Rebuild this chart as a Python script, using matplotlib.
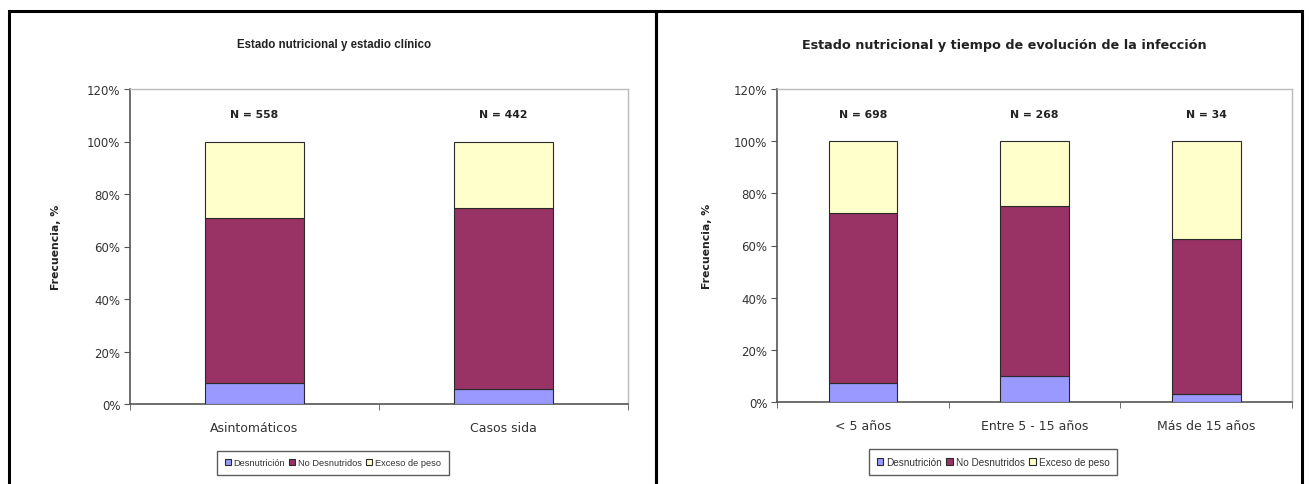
import matplotlib
matplotlib.use("Agg")
import matplotlib.pyplot as plt
from matplotlib.patches import Rectangle
import numpy as np

W, H = 1309, 485

# ---- data ----
left_title = "Estado nutricional y estadio clínico"
left_categories = ["Asintomáticos", "Casos sida"]
left_n = ["N = 558", "N = 442"]
left_desnutricion = [8.0, 5.7]
left_no_desnutridos = [62.8, 69.0]
left_exceso = [29.2, 25.3]

right_title = "Estado nutricional y tiempo de evolución de la infección"
right_categories = ["< 5 años", "Entre 5 - 15 años", "Más de 15 años"]
right_n = ["N = 698", "N = 268", "N = 34"]
right_desnutricion = [7.3, 10.0, 3.0]
right_no_desnutridos = [65.0, 65.0, 59.5]
right_exceso = [27.7, 25.0, 37.5]

series_names = ["Desnutrición", "No Desnutridos", "Exceso de peso"]
colors = ["#9999FF", "#993366", "#FFFFCC"]
ylabel = "Frecuencia, %"
yticks = [0, 20, 40, 60, 80, 100, 120]

WIDE = ["DejaVu Sans"]
NARROW = ["Liberation Sans", "DejaVu Sans"]
plt.rcParams["font.family"] = NARROW

fig = plt.figure(figsize=(W / 100, H / 100), dpi=100)


def fx(x):
    return x / W


def fy(y):
    return 1 - y / H


def add_axes_px(x0, y0, x1, y1):
    return fig.add_axes([fx(x0), fy(y1), fx(x1) - fx(x0), fy(y0) - fy(y1)])


# panel borders
for (x0, y0, x1, y1) in [(9, 12, 656, 490), (656, 12, 1302, 490)]:
    fig.add_artist(Rectangle((fx(x0), fy(y1)), fx(x1) - fx(x0), fy(y0) - fy(y1),
                             transform=fig.transFigure, fill=False,
                             edgecolor="black", linewidth=2.2, clip_on=False))


def draw_panel(box, title, title_x, title_font, title_size, cats, ns, d, nd, ex,
               ylab_x, legend_cx, legend_size, legend_y):
    x0, y0, x1, y1 = box
    ax = add_axes_px(x0, y0, x1, y1)
    n = len(cats)
    xs = np.arange(n)
    d = np.array(d); nd = np.array(nd); ex = np.array(ex)
    bars = []
    bottoms = [np.zeros(n), d, d + nd]
    for vals, bot, c, name in zip([d, nd, ex], bottoms, colors, series_names):
        b = ax.bar(xs, vals, bottom=bot, width=0.4, color=c, edgecolor="#2a2a2a",
                   linewidth=0.8, label=name, zorder=3)
        bars.append(b)
    ax.set_xlim(-0.5, n - 0.5)
    ax.set_ylim(0, 120)
    ax.set_yticks(yticks)
    ax.set_yticklabels([f"{t}%" for t in yticks], fontsize=8.5, color="#333333",
                       family=WIDE)
    ax.set_xticks(xs)
    ax.set_xticklabels(cats, fontsize=9, color="#333333", family=WIDE)
    ax.tick_params(axis="x", length=0, pad=12)
    ax.set_xticks(np.arange(-0.5, n, 1.0), minor=True)
    ax.tick_params(axis="x", which="minor", length=4, direction="out", color="#555555")
    ax.tick_params(axis="y", length=4, direction="out", color="#555555", pad=3)
    for s in ["top", "right"]:
        ax.spines[s].set_color("#BBBBBB")
        ax.spines[s].set_linewidth(1.0)
    for s in ["left", "bottom"]:
        ax.spines[s].set_color("#555555")
        ax.spines[s].set_linewidth(1.2)
    for xi, lab in zip(xs, ns):
        ax.text(xi, 110.5, lab, ha="center", va="center", fontsize=7.8,
                fontweight="bold", color="#222222", family=WIDE)
    fig.text(fx(title_x), fy(45), title, ha="center", va="center",
             fontsize=title_size, fontweight="bold", color="#222222",
             family=title_font)
    fig.text(fx(ylab_x), fy((y0 + y1) / 2), ylabel, rotation=90, ha="center",
             va="center", fontsize=7.8, fontweight="bold", color="#222222",
             family=WIDE)
    leg = fig.legend(handles=bars, labels=series_names, loc="center",
                     bbox_to_anchor=(fx(legend_cx), fy(legend_y)), ncol=3,
                     prop={"size": legend_size, "family": NARROW},
                     frameon=True, fancybox=False,
                     handlelength=0.65, handleheight=0.65, handletextpad=0.3,
                     columnspacing=0.45, borderpad=0.8, borderaxespad=0)
    for t in leg.get_texts():
        t.set_color("#333333")
    leg.get_frame().set_edgecolor("#333333")
    leg.get_frame().set_linewidth(1.0)
    return ax


draw_panel((130, 90, 628, 405), left_title, 334, NARROW, 8.3, left_categories,
           left_n, left_desnutricion, left_no_desnutridos, left_exceso, 56, 333,
           6.7, 464)
draw_panel((777, 90, 1292, 403), right_title, 1004, WIDE, 9.2, right_categories,
           right_n, right_desnutricion, right_no_desnutridos, right_exceso, 707,
           993, 7.2, 463)

fig.savefig("out.png", dpi=100)
